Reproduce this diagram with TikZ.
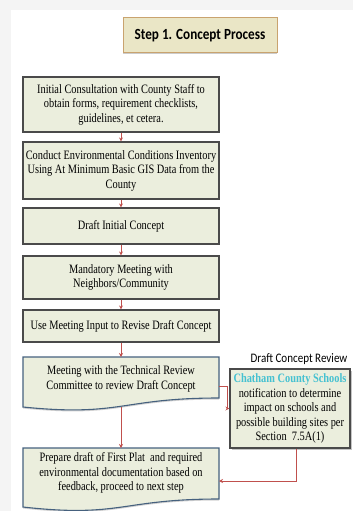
\documentclass[tikz,border=0pt]{standalone}
\usepackage{fontspec}
\setmainfont{Liberation Serif}[FakeStretch=0.81]
\newfontfamily\headfont{Carlito}[FakeStretch=0.85]
\usetikzlibrary{arrows.meta,shadows}

\definecolor{boxfill}{HTML}{EBEEDD}
\definecolor{boxline}{HTML}{4A4A4A}
\definecolor{docline}{HTML}{46617E}
\definecolor{arrowred}{HTML}{C0504D}
\definecolor{schoolcyan}{HTML}{45C1D1}
\definecolor{titlefill}{HTML}{EAE6C6}
\definecolor{titleline}{HTML}{C9A36F}
\definecolor{pagegray}{HTML}{F4F4F4}

\begin{document}
\begin{tikzpicture}[x=1pt,y=-1pt,
  bodyfont/.style={font=\fontsize{12.8}{14.5}\selectfont},
  stepbox/.style={draw=boxline, line width=1.1pt, fill=boxfill, minimum width=196pt,
    inner sep=0pt, align=center, bodyfont},
  doctext/.style={inner sep=0pt, align=center, bodyfont},
  docshape/.style={draw=docline, line width=1.1pt, fill=boxfill,
    drop shadow={shadow xshift=0pt, shadow yshift=-1.5pt, opacity=0.35}},
  flow/.style={draw=arrowred, line width=0.8pt, -{Stealth[length=4pt,width=4pt]}},
]
\useasboundingbox (0,0) rectangle (353,511);
% page background
\fill[pagegray] (0,0) rectangle (353,511);
\fill[white] (11,10) rectangle (353,511);

% heading
\node[draw=titleline, line width=1pt, fill=titlefill, minimum width=154pt, minimum height=35pt,
  inner sep=0pt, font=\headfont\bfseries\fontsize{15.5}{18}\selectfont,
  drop shadow={shadow xshift=0pt, shadow yshift=-1.2pt, opacity=0.4}]
  (title) at (200,35.5) {Step 1. Concept Process};

% main column of steps
\node[stepbox, minimum height=55pt] (s1) at (121,104.5)
  {Initial Consultation with County Staff to\\obtain forms, requirement checklists,\\guidelines, et cetera.};
\node[stepbox, minimum height=57pt] (s2) at (121,170.5)
  {Conduct Environmental Conditions Inventory\\Using At Minimum Basic GIS Data from the\\County};
\node[stepbox, minimum height=36pt] (s3) at (121,226)
  {Draft Initial Concept};
\node[stepbox, minimum height=43pt] (s4) at (121,277.5)
  {Mandatory Meeting with\\Neighbors/Community};
\node[stepbox, minimum height=32pt] (s5) at (121,326)
  {Use Meeting Input to Revise Draft Concept};

% document-shaped steps
\draw[docshape] (23,357) -- (219,357) -- (219,398)
  .. controls (121,398) and (121,417) .. (23,407) -- cycle;
\node[doctext] (s6) at (121,379)
  {Meeting with the Technical Review\\Committee to review Draft Concept};
\coordinate (s6t) at (121,357);
\coordinate (s6b) at (121,407);
\coordinate (s6r) at (219,386);

\draw[docshape] (23,448) -- (219,448) -- (219,499)
  .. controls (121,499) and (121,518) .. (23,507) -- cycle;
\node[doctext] (s7) at (121,473)
  {Prepare draft of First Plat\ \ and required\\environmental documentation based on\\feedback, proceed to next step};
\coordinate (s7t) at (121,448);
\coordinate (s7r) at (219,481);

% side review box
\node[font=\headfont\fontsize{13}{15}\selectfont, inner sep=0pt] (dcr) at (299,359)
  {Draft Concept Review};
\node[stepbox, minimum width=120pt, minimum height=79pt,
  drop shadow={shadow xshift=1.5pt, shadow yshift=-1.5pt, opacity=0.45}] (cs) at (290,408.5)
  {\textcolor{schoolcyan}{\bfseries Chatham County Schools}\\notification to determine\\impact on schools and\\possible building sites per\\Section\ \ 7.5A(1)};

% connectors
\draw[flow] (s1.south) -- (s2.north);
\draw[flow] (s2.south) -- (s3.north);
\draw[flow] (s3.south) -- (s4.north);
\draw[flow] (s4.south) -- (s5.north);
\draw[flow] (s5.south) -- (s6t);
\draw[flow] (s6b) -- (s7t);
\draw[flow] (s6r) -- ++(8,0) |- (cs.west);
\draw[flow] ([xshift=6pt]cs.south) |- (s7r);
\end{tikzpicture}
\end{document}
